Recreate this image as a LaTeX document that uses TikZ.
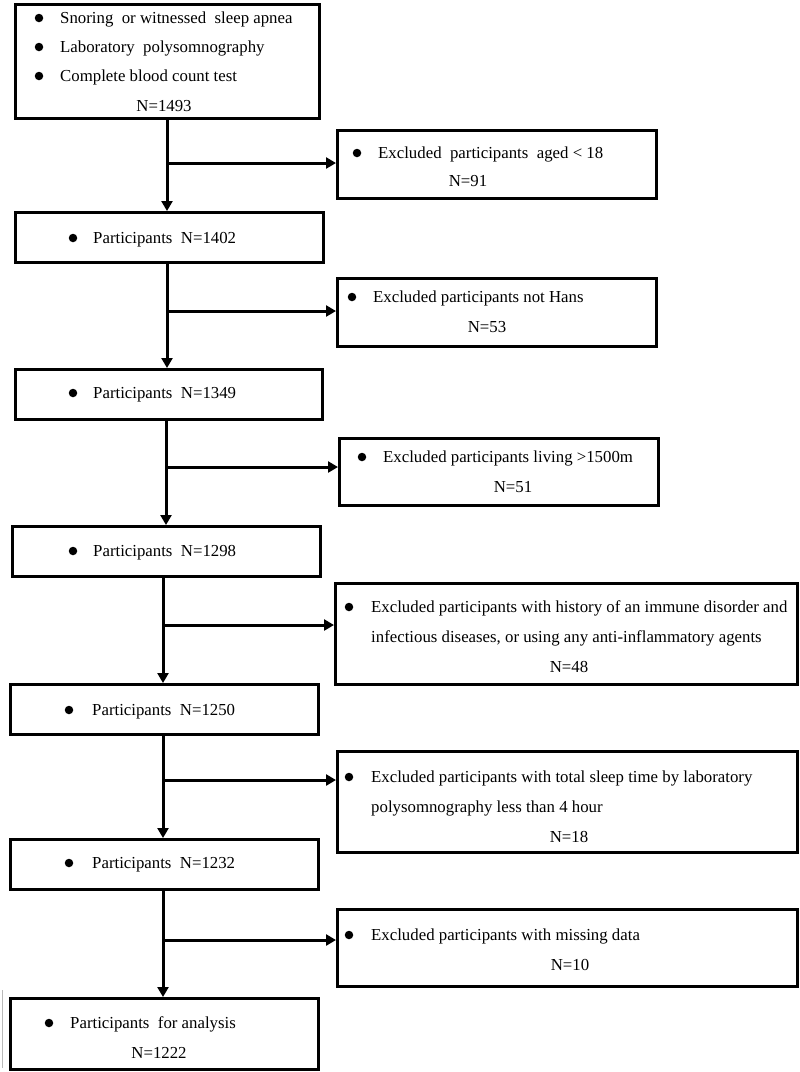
\documentclass[tikz,border=0pt]{standalone}
\usepackage{fontspec}
\setmainfont{Liberation Serif}
\usetikzlibrary{arrows.meta}
\newcommand\figfont{\fontsize{16.8}{20}\selectfont}
\begin{document}
\begin{tikzpicture}[x=1pt,y=-1pt,
  box/.style={draw=black, line width=3.4pt, inner sep=0pt, anchor=north west},
  txt/.style={inner sep=0pt, anchor=base west, font=\figfont},
  ctxt/.style={inner sep=0pt, anchor=base, font=\figfont},
  dot/.style={circle, fill=black, inner sep=0pt, minimum size=8.5pt},
  arr/.style={line width=3pt, -{Triangle[length=10pt,width=11pt]}}]
\useasboundingbox (0,0) rectangle (800,1072);
% boxes
\node[box, minimum width=304pt, minimum height=114pt] (top) at (14,3) {};
\node[box, minimum width=319pt, minimum height=68pt] (ex1) at (336,129) {};
\node[box, minimum width=308pt, minimum height=50pt] (p1) at (14,211) {};
\node[box, minimum width=319pt, minimum height=68pt] (ex2) at (336,277) {};
\node[box, minimum width=307pt, minimum height=50pt] (p2) at (14,368) {};
\node[box, minimum width=319pt, minimum height=67pt] (ex3) at (338,437) {};
\node[box, minimum width=308pt, minimum height=50pt] (p3) at (11,525) {};
\node[box, minimum width=462pt, minimum height=101pt] (ex4) at (334,582) {};
\node[box, minimum width=308pt, minimum height=50pt] (p4) at (9,683) {};
\node[box, minimum width=460pt, minimum height=101pt] (ex5) at (336,750) {};
\node[box, minimum width=308pt, minimum height=50pt] (p5) at (9,838) {};
\node[box, minimum width=460pt, minimum height=77pt] (ex6) at (336,908) {};
\node[box, minimum width=308pt, minimum height=71pt] (p6) at (9,997) {};
% branch points
\coordinate (b1) at (167,163);
\coordinate (b2) at (167,311);
\coordinate (b3) at (166,467);
\coordinate (b4) at (163,625);
\coordinate (b5) at (163,780);
\coordinate (b6) at (163,940);
% connectors
\draw[arr] (b1 |- top.south) -- (b1 |- p1.north);
\draw[arr] (b1) -- (ex1.west |- b1);
\draw[arr] (b2 |- p1.south) -- (b2 |- p2.north);
\draw[arr] (b2) -- (ex2.west |- b2);
\draw[arr] (b3 |- p2.south) -- (b3 |- p3.north);
\draw[arr] (b3) -- (ex3.west |- b3);
\draw[arr] (b4 |- p3.south) -- (b4 |- p4.north);
\draw[arr] (b4) -- (ex4.west |- b4);
\draw[arr] (b5 |- p4.south) -- (b5 |- p5.north);
\draw[arr] (b5) -- (ex5.west |- b5);
\draw[arr] (b6 |- p5.south) -- (b6 |- p6.north);
\draw[arr] (b6) -- (ex6.west |- b6);
% faint edge line at left
\draw[gray!55, line width=1pt] (2,990) -- (2,1068);
% texts: top box
\node[dot] (d0a) at (39,18) {};
\node[txt] (t0a) at (60,23) {Snoring\ \ or witnessed\ \ sleep apnea};
\node[dot] (d0b) at (39,47) {};
\node[txt] (t0b) at (60,52) {Laboratory\ \ polysomnography};
\node[dot] (d0c) at (39,76) {};
\node[txt] (t0c) at (60,81) {Complete blood count test};
\node[ctxt] (t0n) at (164,111) {N=1493};
% ex1
\node[dot] (d1) at (357,153) {};
\node[txt] (t1) at (378,158) {Excluded\ \ participants\ \ aged \textless\ 18};
\node[ctxt] (t1n) at (468,186) {N=91};
% p1
\node[dot] (dp1) at (73,238) {};
\node[txt] (tp1) at (93,243) {Participants\ \ N=1402};
% ex2
\node[dot] (d2) at (352,297) {};
\node[txt] (t2) at (373,302) {Excluded participants not Hans};
\node[ctxt] (t2n) at (487,332) {N=53};
% p2
\node[dot] (dp2) at (73,393) {};
\node[txt] (tp2) at (93,398) {Participants\ \ N=1349};
% ex3
\node[dot] (d3) at (362,457) {};
\node[txt] (t3) at (383,462) {Excluded participants living >1500m};
\node[ctxt] (t3n) at (513,492) {N=51};
% p3
\node[dot] (dp3) at (73,551) {};
\node[txt] (tp3) at (93,556) {Participants\ \ N=1298};
% ex4
\node[dot] (d4) at (349,607) {};
\node[txt] (t4a) at (371,612) {Excluded participants with history of an immune\ disorder and};
\node[txt] (t4b) at (371,642) {infectious diseases, or using any anti-inflammatory\ agents};
\node[ctxt] (t4n) at (569,672) {N=48};
% p4
\node[dot] (dp4) at (69,710) {};
\node[txt] (tp4) at (92,715) {Participants\ \ N=1250};
% ex5
\node[dot] (d5) at (349,777) {};
\node[txt] (t5a) at (371,782) {Excluded participants with total sleep time by laboratory};
\node[txt] (t5b) at (371,812) {polysomnography\ less than 4 hour};
\node[ctxt] (t5n) at (569,842) {N=18};
% p5
\node[dot] (dp5) at (69,863) {};
\node[txt] (tp5) at (92,868) {Participants\ \ N=1232};
% ex6
\node[dot] (d6) at (349,935) {};
\node[txt] (t6) at (371,940) {Excluded participants with missing data};
\node[ctxt] (t6n) at (570,970) {N=10};
% p6
\node[dot] (dp6) at (49,1023) {};
\node[txt] (tp6) at (70,1028) {Participants\ \ for analysis};
\node[ctxt] (tp6n) at (159,1058) {N=1222};
\end{tikzpicture}
\end{document}
